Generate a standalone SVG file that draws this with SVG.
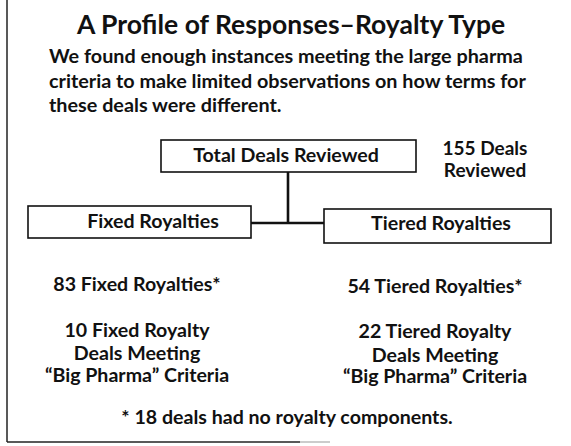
<svg xmlns="http://www.w3.org/2000/svg" width="571" height="446" viewBox="0 0 571 446">
<style>
text{font-family:Lato,"Liberation Sans",sans-serif;font-weight:bold;fill:#111}
.t{font-size:26.5px}
.p{font-size:19.8px}
.b{font-size:19.6px}
.s{font-size:19px}
.c{text-anchor:middle}
.box{fill:#fff;stroke:#111;stroke-width:1.6}
.con{fill:none;stroke:#111;stroke-width:2.6}
</style>
<rect width="571" height="446" fill="#fff"/>
<g id="frame">
<line x1="7" y1="0" x2="7" y2="442" stroke="#222" stroke-width="1.5"/>
<line x1="7" y1="442" x2="300" y2="442" stroke="#222" stroke-width="1.5"/>
<line x1="300" y1="442" x2="330" y2="442" stroke="#999" stroke-width="1"/>
</g>
<g id="title">
<text class="t" x="77" y="34">A Profile of Responses–Royalty Type</text>
<text class="p" x="49" y="63">We found enough instances meeting the large pharma</text>
<text class="p" x="49" y="88">criteria to make limited observations on how terms for</text>
<text class="p" x="49" y="112">these deals were different.</text>
</g>
<g id="connectors">
<path class="con" d="M288 172 V223 M251 223 H324"/>
</g>
<g id="total">
<rect class="box" x="161" y="140" width="255" height="32"/>
<text class="b c" x="286" y="162">Total Deals Reviewed</text>
</g>
<g id="count">
<text class="s c" x="485" y="155">155 Deals</text>
<text class="s c" x="485" y="177">Reviewed</text>
</g>
<g id="fixed">
<rect class="box" x="28" y="206" width="223" height="32"/>
<text class="b c" x="153" y="228">Fixed Royalties</text>
</g>
<g id="tiered">
<rect class="box" x="324" y="209" width="227" height="34"/>
<text class="b c" x="441" y="230">Tiered Royalties</text>
</g>
<g id="fixed-stats">
<text class="b c" x="137" y="291">83 Fixed Royalties*</text>
<text class="b c" x="137" y="337">10 Fixed Royalty<tspan x="137" y="360">Deals Meeting</tspan><tspan x="137" y="382">“Big Pharma” Criteria</tspan></text>
</g>
<g id="tiered-stats">
<text class="b c" x="435" y="293">54 Tiered Royalties*</text>
<text class="b c" x="435" y="338">22 Tiered Royalty<tspan x="435" y="362">Deals Meeting</tspan><tspan x="435" y="383">“Big Pharma” Criteria</tspan></text>
</g>
<g id="footnote">
<text class="b c" x="287" y="424">* 18 deals had no royalty components.</text>
</g>
</svg>
